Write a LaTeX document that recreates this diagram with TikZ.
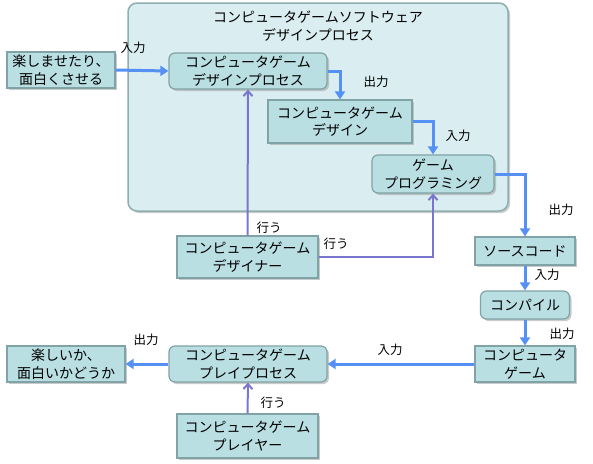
\documentclass[tikz,border=0pt]{standalone}
\usepackage{fontspec}
\setmainfont{Noto Sans CJK JP}
\usetikzlibrary{shadows,arrows.meta}
\definecolor{nodefill}{HTML}{B9DFE3}
\definecolor{nodeline}{HTML}{7FA3A6}
\definecolor{boxfill}{HTML}{DAEDF0}
\definecolor{boxline}{HTML}{8FAEB0}
\definecolor{flowblue}{HTML}{5590F5}
\definecolor{dopurple}{HTML}{7A76CF}
\tikzset{
  base/.style={draw=nodeline, fill=nodefill, line width=1.2pt, align=center, inner sep=0pt,
    font=\fontsize{14pt}{17.5pt}\selectfont,
    drop shadow={shadow xshift=2pt, shadow yshift=-2pt, fill=black!35, opacity=0.6}},
  rectbox/.style={base},
  roundbox/.style={base, rounded corners=6pt},
  flow/.style={draw=flowblue, line width=3pt, -{Triangle[length=8pt,width=10pt]}},
  does/.style={draw=dopurple, line width=2pt, -{Straight Barb[length=5pt,width=9pt]}},
  lbl/.style={font=\fontsize{12.5pt}{14pt}\selectfont, inner sep=0pt}
}
\begin{document}
\begin{tikzpicture}[x=1pt,y=-1pt]
\useasboundingbox (0,0) rectangle (593,463);
% container
\node[draw=boxline, fill=boxfill, line width=1.5pt, rounded corners=9pt,
  minimum width=380pt, minimum height=208pt, inner sep=0pt,
  drop shadow={shadow xshift=2pt, shadow yshift=-2pt, fill=black!35, opacity=0.6}]
  (box) at (318,107) {};
\node[align=center, font=\fontsize{14pt}{17.5pt}\selectfont] (title) at (318,26)
  {コンピュータゲームソフトウェア\\デザインプロセス};
% nodes
\node[rectbox, minimum width=108pt, minimum height=36pt] (A) at (61,70) {楽しませたり、\\面白くさせる};
\node[roundbox, minimum width=158pt, minimum height=36pt] (B) at (248,71) {コンピュータゲーム\\デザインプロセス};
\node[rectbox, minimum width=144pt, minimum height=43pt] (C) at (340,121.5) {コンピュータゲーム\\デザイン};
\node[roundbox, minimum width=122pt, minimum height=38pt] (D) at (433,174) {ゲーム\\プログラミング};
\node[rectbox, minimum width=141pt, minimum height=42pt] (E) at (247.5,257) {コンピュータゲーム\\デザイナー};
\node[rectbox, minimum width=100pt, minimum height=28pt] (F) at (525,251) {ソースコード};
\node[roundbox, minimum width=89pt, minimum height=28pt] (G) at (525,305) {コンパイル};
\node[rectbox, minimum width=100pt, minimum height=36pt] (H) at (525,364) {コンピュータ\\ゲーム};
\node[roundbox, minimum width=158pt, minimum height=36pt] (I) at (248,364) {コンピュータゲーム\\プレイプロセス};
\node[rectbox, minimum width=118pt, minimum height=36pt] (J) at (66,364) {楽しいか、\\面白いかどうか};
\node[rectbox, minimum width=141pt, minimum height=44pt] (K) at (247.5,436) {コンピュータゲーム\\プレイヤー};
% flows
\draw[flow] (A.east) -- (B.west);
\draw[flow] (B.east) -| (C.north);
\draw[flow] (C.east) -| (D.north);
\draw[flow] (D.east) -| (F.north);
\draw[flow] (F.south) -- (G.north);
\draw[flow] (G.south) -- (H.north);
\draw[flow] (H.west) -- (I.east);
\draw[flow] (I.west) -- (J.east);
% does
\draw[does] (E.north) -- (B.south);
\draw[does] (E.east) -| (D.south);
\draw[does] (K.north) -- (I.south);
% labels
\node[lbl] (l1) at (133,48) {入力};
\node[lbl] (l2) at (376,82) {出力};
\node[lbl] (l3) at (458,136) {入力};
\node[lbl] (l4) at (561,210) {出力};
\node[lbl] (l5) at (547,275) {入力};
\node[lbl] (l6) at (562,334) {出力};
\node[lbl] (l7) at (390,350) {入力};
\node[lbl] (l8) at (146,340) {出力};
\node[lbl] (l9) at (269,228) {行う};
\node[lbl] (l10) at (336,244) {行う};
\node[lbl] (l11) at (273,403) {行う};
\end{tikzpicture}
\end{document}
